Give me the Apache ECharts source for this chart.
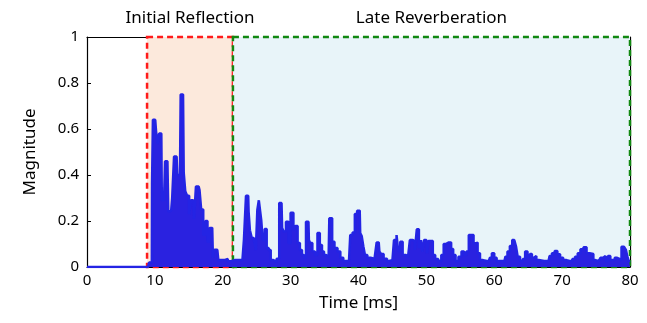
<!DOCTYPE html>
<html>
<head>
    <meta charset="utf-8">
    <title>Impulse response</title>
</head>
<body style="margin:0">
    <div id="main" style="width: 647px; height: 323px;"></div>
    <script src="https://cdn.jsdelivr.net/npm/echarts@6/dist/echarts.min.js"></script>
    <script type="text/javascript">
        // sampled envelope of the impulse response (ms, magnitude)
        var timeMs = [
            0, 9.0, 9.3, 9.55, 9.62, 9.8, 10.05, 10.3, 10.5, 10.75, 10.95, 11.1, 11.35, 11.65, 11.85,
            12.1, 12.4, 12.7, 12.95, 13.2, 13.4, 13.7, 13.9, 14.15, 14.35, 14.6, 14.9, 15.2, 15.45,
            15.65, 15.9, 16.2, 16.45, 16.7, 16.95, 17.3, 17.6, 17.9, 18.2, 18.45, 18.65, 18.9, 19.2,
            19.5, 20.0, 20.5, 21.0, 21.5,
            22.0, 22.9, 23.35, 23.5, 23.75, 23.87, 24.13, 24.43, 24.75, 25.0, 25.19, 25.44, 25.6,
            25.74, 26.03, 26.33, 26.62, 26.92, 27.21, 27.7, 28.18, 28.46, 28.66, 28.83, 29.13, 29.5,
            29.86, 30.13, 30.28, 30.54, 30.86, 31.2, 31.53, 31.82, 32.12, 32.41, 32.63, 32.75, 33.0,
            33.4, 33.78, 34.13, 34.47, 34.77, 35.06, 35.36, 35.6, 35.8, 36.0, 36.24, 36.68, 37.13,
            37.52, 38.0, 38.6, 38.97, 39.29, 39.63, 39.97, 40.18, 40.32, 40.62, 40.8, 41.1, 41.5,
            42.06, 42.58, 42.77, 42.98, 43.17, 43.5, 43.9, 44.5, 45.0, 45.46, 45.75, 45.95, 46.35,
            46.66, 47.3, 47.84, 48.18, 48.44, 48.74, 49.06, 49.3, 49.5, 49.8, 50.0, 50.2, 50.4,
            50.8, 51.1, 51.5, 52.0, 52.4, 52.7, 53.0, 53.5, 53.8, 54.1, 54.5, 54.95, 55.4, 55.7,
            56.1, 56.4, 56.8, 57.1, 57.4, 57.7, 58.1, 58.6, 59.2, 59.5, 59.8, 60.2, 60.5, 61.5,
            61.8, 62.1, 62.5, 62.8, 63.1, 63.3, 63.6, 64.0, 64.4, 64.7, 65.1, 65.4, 65.7, 66.0,
            66.4, 66.7, 68.0, 68.3, 68.7, 69.1, 69.5, 69.9, 70.4, 70.9, 71.3, 71.7, 72.1, 72.5,
            72.9, 73.4, 73.8, 74.3, 74.9, 75.4, 75.9, 76.2, 76.6, 76.9, 77.3, 77.6, 77.9, 78.3,
            78.6, 78.9, 79.3, 79.5, 79.8, 80
        ];
        var magnitude = [
            0, 0, 0.02, 0.02, 0.36, 0.64, 0.64, 0.59, 0.535, 0.58, 0.58, 0.29, 0.29, 0.46, 0.46,
            0.24, 0.245, 0.30, 0.48, 0.48, 0.40, 0.40, 0.75, 0.75, 0.41, 0.33, 0.31, 0.23, 0.29,
            0.29, 0.21, 0.35, 0.35, 0.335, 0.25, 0.14, 0.20, 0.11, 0.17, 0.17, 0.04, 0.075, 0.075,
            0.03, 0.03, 0.035, 0.025, 0.03,
            0.03, 0.03, 0.12, 0.31, 0.31, 0.24, 0.16, 0.126, 0.117, 0.074, 0.248, 0.29, 0.29,
            0.204, 0.117, 0.165, 0.083, 0.074, 0.03, 0.023, 0.036, 0.278, 0.278, 0.17, 0.154, 0.197,
            0.104, 0.236, 0.236, 0.16, 0.178, 0.104, 0.074, 0.052, 0.04, 0.197, 0.197, 0.117, 0.104,
            0.067, 0.052, 0.148, 0.096, 0.067, 0.052, 0.06, 0.044, 0.212, 0.212, 0.11, 0.083, 0.067,
            0.04, 0.026, 0.026, 0.139, 0.15, 0.23, 0.245, 0.245, 0.148, 0.135, 0.09, 0.052, 0.04,
            0.036, 0.026, 0.107, 0.107, 0.067, 0.057, 0.036, 0.026, 0.03, 0.117, 0.139, 0.07, 0.11,
            0.052, 0.044, 0.117, 0.11, 0.074, 0.164, 0.083, 0.117, 0.067, 0.117, 0.117, 0.06, 0.113,
            0.113, 0.052, 0.035, 0.026, 0.052, 0.10, 0.106, 0.106, 0.078, 0.052, 0.026, 0.045, 0.067, 0.052,
            0.067, 0.139, 0.139, 0.103, 0.106, 0.06, 0.03, 0.026, 0.026, 0.04, 0.06, 0.04, 0.026, 0.026,
            0.045, 0.067, 0.091, 0.117, 0.117, 0.09, 0.045, 0.026, 0.035, 0.067, 0.045, 0.056, 0.04, 0.048,
            0.03, 0.026, 0.026, 0.048, 0.06, 0.07, 0.055, 0.04, 0.03, 0.026, 0.026, 0.035, 0.045, 0.06,
            0.077, 0.086, 0.06, 0.057, 0.03, 0.026, 0.04, 0.048, 0.026, 0.048, 0.03, 0.03, 0.04, 0.035,
            0.03, 0.088, 0.088, 0.074, 0.04, 0.02
        ];
        var regionNames = ['Initial Reflection', 'Late Reverberation'];
        var regionBounds = [[8.85, 21.5], [21.5, 80]];

        var xTicks = [0, 80, 10];
        var yTicks = [0, 1, 0.2];

        var data = timeMs.map(function (t, i) { return [t, magnitude[i]]; });

        var font = 'Noto Sans';
        var axisCommon = {
            axisLine: { show: true, onZero: false, lineStyle: { color: '#000', width: 1.2 } },
            axisTick: { show: true, inside: true, length: 4, lineStyle: { color: '#000' } },
            splitLine: { show: false }
        };

        var chartDom = document.getElementById('main');
        var myChart = echarts.init(chartDom);
        var option = {
            animation: false,
            grid: { left: 87, right: 17, top: 37, bottom: 56 },
            xAxis: [
                Object.assign({
                    type: 'value', min: xTicks[0], max: xTicks[1], interval: xTicks[2],
                    name: 'Time [ms]', nameLocation: 'middle', nameGap: 28,
                    nameTextStyle: { fontFamily: font, fontSize: 17, color: '#000' },
                    axisLabel: { fontFamily: font, fontSize: 15, color: '#000', margin: 6 }
                }, axisCommon),
                Object.assign({
                    type: 'value', position: 'top', min: xTicks[0], max: xTicks[1], interval: xTicks[2],
                    axisLabel: { show: false }
                }, axisCommon)
            ],
            yAxis: [
                Object.assign({
                    type: 'value', min: yTicks[0], max: yTicks[1], interval: yTicks[2],
                    name: 'Magnitude', nameLocation: 'middle', nameGap: 48,
                    nameTextStyle: { fontFamily: font, fontSize: 17, color: '#000' },
                    axisLabel: { fontFamily: font, fontSize: 15, color: '#000', margin: 8 }
                }, axisCommon),
                Object.assign({
                    type: 'value', position: 'right', min: yTicks[0], max: yTicks[1], interval: yTicks[2],
                    axisLabel: { show: false }
                }, axisCommon)
            ],
            series: [
                {
                    type: 'line',
                    data: [],
                    z: 1,
                    markArea: {
                        silent: true,
                        label: {
                            position: 'top', distance: 9,
                            fontFamily: font, fontSize: 17, color: '#000'
                        },
                        data: [
                            [
                                {
                                    name: regionNames[0], xAxis: regionBounds[0][0], yAxis: yTicks[1],
                                    itemStyle: {
                                        color: '#fce9dc', borderColor: '#ff1a1a',
                                        borderWidth: 2.5, borderType: [6, 4]
                                    }
                                },
                                { xAxis: regionBounds[0][1], yAxis: yTicks[0] }
                            ],
                            [
                                {
                                    name: regionNames[1], xAxis: regionBounds[1][0], yAxis: yTicks[1],
                                    itemStyle: {
                                        color: '#e8f4f9', borderColor: '#118811',
                                        borderWidth: 2.5, borderType: [6, 4]
                                    }
                                },
                                { xAxis: regionBounds[1][1], yAxis: yTicks[0] }
                            ]
                        ]
                    }
                },
                {
                    type: 'line',
                    data: data,
                    z: 3,
                    symbol: 'none',
                    step: 'middle',
                    lineStyle: { color: '#2424e4', width: 2.5 },
                    areaStyle: { color: '#2a22e0', opacity: 1, origin: 'start' }
                }
            ]
        };
        myChart.setOption(option);
    </script>
</body>
</html>
